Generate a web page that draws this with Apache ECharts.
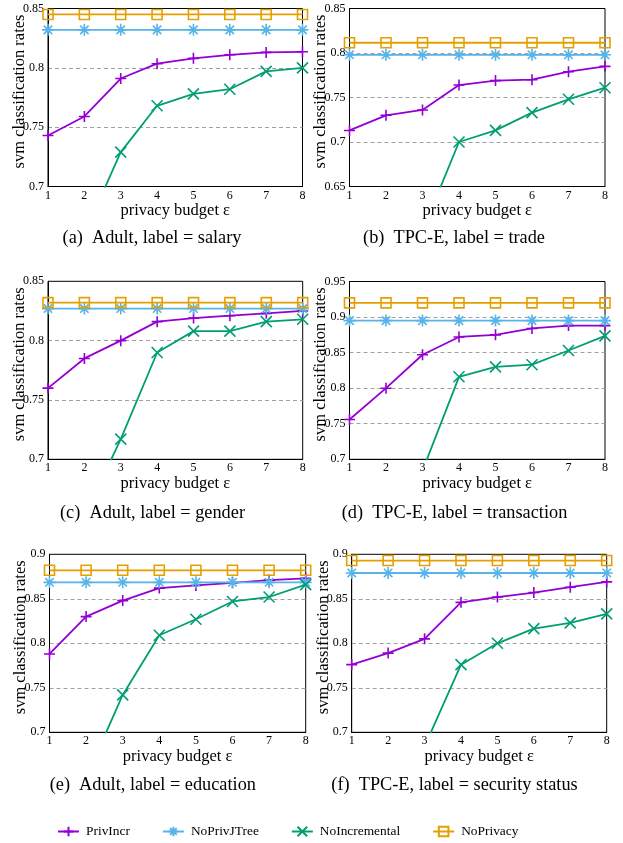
<!DOCTYPE html>
<html>
<head>
<meta charset="utf-8">
<script src="https://cdn.jsdelivr.net/npm/echarts@6/dist/echarts.min.js"></script>
<style>
html,body{margin:0;padding:0;background:#fff;}
#chart{width:623px;height:843px;}
</style>
</head>
<body>
<div id="chart"></div>
<script>
// ---- data ----
const epsilons = [1, 2, 3, 4, 5, 6, 7, 8];
const seriesNames = ['PrivIncr', 'NoPrivJTree', 'NoIncremental', 'NoPrivacy'];
const captions = [
  '(a)  Adult, label = salary',
  '(b)  TPC-E, label = trade',
  '(c)  Adult, label = gender',
  '(d)  TPC-E, label = transaction',
  '(e)  Adult, label = education',
  '(f)  TPC-E, label = security status'
];
const yMins = [0.7, 0.65, 0.7, 0.7, 0.7, 0.7];
const yMaxs = [0.85, 0.85, 0.85, 0.95, 0.9, 0.9];
const yStep = 0.05;
const xAxisTitle = 'privacy budget ε';
const yAxisTitle = 'svm classification rates';

// (a) Adult, salary
const aPrivIncr      = [0.743, 0.759, 0.791, 0.8035, 0.808, 0.811, 0.813, 0.8135];
const aNoPrivJTree   = [0.832, 0.832, 0.832, 0.832, 0.832, 0.832, 0.832, 0.832];
const aNoIncremental = [0.600, 0.660, 0.729, 0.768, 0.778, 0.782, 0.797, 0.800];
const aNoPrivacy     = [0.845, 0.845, 0.845, 0.845, 0.845, 0.845, 0.845, 0.845];
// (b) TPC-E, trade
const bPrivIncr      = [0.713, 0.730, 0.736, 0.764, 0.769, 0.770, 0.779, 0.785];
const bNoPrivJTree   = [0.798, 0.798, 0.798, 0.798, 0.798, 0.798, 0.798, 0.798];
const bNoIncremental = [0.550, 0.580, 0.600, 0.700, 0.713, 0.733, 0.748, 0.761];
const bNoPrivacy     = [0.8115, 0.8115, 0.8115, 0.8115, 0.8115, 0.8115, 0.8115, 0.8115];
// (c) Adult, gender
const cPrivIncr      = [0.760, 0.785, 0.800, 0.816, 0.819, 0.821, 0.823, 0.825];
const cNoPrivJTree   = [0.827, 0.827, 0.827, 0.827, 0.827, 0.827, 0.827, 0.827];
const cNoIncremental = [0.600, 0.652, 0.717, 0.790, 0.808, 0.808, 0.816, 0.818];
const cNoPrivacy     = [0.832, 0.832, 0.832, 0.832, 0.832, 0.832, 0.832, 0.832];
// (d) TPC-E, transaction
const dPrivIncr      = [0.756, 0.800, 0.847, 0.872, 0.875, 0.884, 0.888, 0.888];
const dNoPrivJTree   = [0.895, 0.895, 0.895, 0.895, 0.895, 0.895, 0.895, 0.895];
const dNoIncremental = [0.600, 0.640, 0.684, 0.816, 0.830, 0.833, 0.853, 0.8735];
const dNoPrivacy     = [0.920, 0.920, 0.920, 0.920, 0.920, 0.920, 0.920, 0.920];
// (e) Adult, education
const ePrivIncr      = [0.788, 0.830, 0.848, 0.862, 0.865, 0.868, 0.871, 0.873];
const eNoPrivJTree   = [0.8685, 0.8685, 0.8685, 0.8685, 0.8685, 0.8685, 0.8685, 0.8685];
const eNoIncremental = [0.600, 0.649, 0.742, 0.809, 0.827, 0.847, 0.852, 0.866];
const eNoPrivacy     = [0.882, 0.882, 0.882, 0.882, 0.882, 0.882, 0.882, 0.882];
// (f) TPC-E, security status
const fPrivIncr      = [0.776, 0.789, 0.805, 0.846, 0.852, 0.857, 0.863, 0.869];
const fNoPrivJTree   = [0.879, 0.879, 0.879, 0.879, 0.879, 0.879, 0.879, 0.879];
const fNoIncremental = [0.600, 0.640, 0.684, 0.776, 0.800, 0.8165, 0.823, 0.833];
const fNoPrivacy     = [0.893, 0.893, 0.893, 0.893, 0.893, 0.893, 0.893, 0.893];

const panels = [
  [aPrivIncr, aNoPrivJTree, aNoIncremental, aNoPrivacy],
  [bPrivIncr, bNoPrivJTree, bNoIncremental, bNoPrivacy],
  [cPrivIncr, cNoPrivJTree, cNoIncremental, cNoPrivacy],
  [dPrivIncr, dNoPrivJTree, dNoIncremental, dNoPrivacy],
  [ePrivIncr, eNoPrivJTree, eNoIncremental, eNoPrivacy],
  [fPrivIncr, fNoPrivJTree, fNoIncremental, fNoPrivacy]
];

// ---- layout & style ----
const FONT = '"Liberation Serif", "Times New Roman", serif';
const grids = [
  {left: 48,    top: 8.5,   width: 254.5, height: 178},
  {left: 349.5, top: 8.5,   width: 255.5, height: 178},
  {left: 48,    top: 281.3, width: 254.7, height: 178},
  {left: 349.5, top: 281.5, width: 255.5, height: 177.8},
  {left: 49.5,  top: 554.3, width: 256.2, height: 178},
  {left: 351.7, top: 554.3, width: 255,   height: 178}
];
const captionPos = [[152, 238], [454, 238], [152.5, 513], [454.5, 513], [152.8, 785], [454.5, 785]];
const colors = ['#9400d3', '#56b4e9', '#009e73', '#e69f00'];
const symbols = [
  'path://M0,5L10,5M5,0L5,10',
  'path://M0,5L10,5M5,0L5,10M1.5,1.5L8.5,8.5M1.5,8.5L8.5,1.5',
  'path://M0,0L10,10M0,10L10,0',
  'path://M0,0L10,0L10,10L0,10Z'
];
const symbolSizes = [11, 12, 11, 10];

const option = {
  backgroundColor: '#fff',
  animation: false,
  textStyle: {fontFamily: FONT, color: '#000'},
  grid: grids.map(g => Object.assign({show: true, borderColor: '#000', borderWidth: 1, containLabel: false}, g)),
  xAxis: grids.map((g, i) => ({
    type: 'value', gridIndex: i, min: 1, max: 8, interval: 1,
    name: xAxisTitle, nameLocation: 'middle', nameGap: 16, nameMoveOverlap: false,
    nameTextStyle: {fontFamily: FONT, fontSize: 16.5, color: '#000'},
    axisLine: {show: true, lineStyle: {color: '#000', width: 1}},
    axisTick: {show: false},
    axisLabel: {fontFamily: FONT, fontSize: 12, color: '#000', margin: 3},
    splitLine: {show: false}
  })),
  yAxis: grids.map((g, i) => ({
    type: 'value', gridIndex: i, min: yMins[i], max: yMaxs[i], interval: yStep,
    name: yAxisTitle, nameLocation: 'middle', nameGap: 20, nameRotate: 90, nameMoveOverlap: false,
    nameTextStyle: {fontFamily: FONT, fontSize: 16.5, color: '#000', padding: [0, 0, 0, 12]},
    axisLine: {show: true, lineStyle: {color: '#000', width: 1}},
    axisTick: {show: false},
    axisLabel: {fontFamily: FONT, fontSize: 12, color: '#000', margin: 4},
    splitLine: {show: true, showMinLine: false, showMaxLine: false,
      lineStyle: {color: '#a0a0a0', width: 1, type: [4, 3]}}
  })),
  legend: {
    data: seriesNames,
    left: 52, top: 820,
    itemWidth: 21, itemHeight: 12, itemGap: 32,
    textStyle: {fontFamily: FONT, fontSize: 13.4, color: '#000', padding: [0, 0, 0, 2]}
  },
  graphic: captions.map((t, i) => ({
    type: 'text', x: captionPos[i][0], y: captionPos[i][1],
    style: {text: t, font: '18.3px ' + FONT, fill: '#000', align: 'center', verticalAlign: 'middle'}
  })),
  series: []
};

panels.forEach((vals, p) => {
  vals.forEach((arr, s) => {
    option.series.push({
      name: seriesNames[s], type: 'line', xAxisIndex: p, yAxisIndex: p,
      data: epsilons.map((e, k) => [e, arr[k]]),
      symbol: symbols[s], symbolSize: symbolSizes[s], showAllSymbol: true,
      clip: true,
      lineStyle: {color: colors[s], width: 1.8},
      itemStyle: {color: s === 3 ? 'rgba(0,0,0,0)' : colors[s], borderColor: colors[s], borderWidth: 1.6},
      z: 2 + s
    });
  });
});

const chart = echarts.init(document.getElementById('chart'), null, {renderer: 'canvas'});
chart.setOption(option);
</script>
</body>
</html>
